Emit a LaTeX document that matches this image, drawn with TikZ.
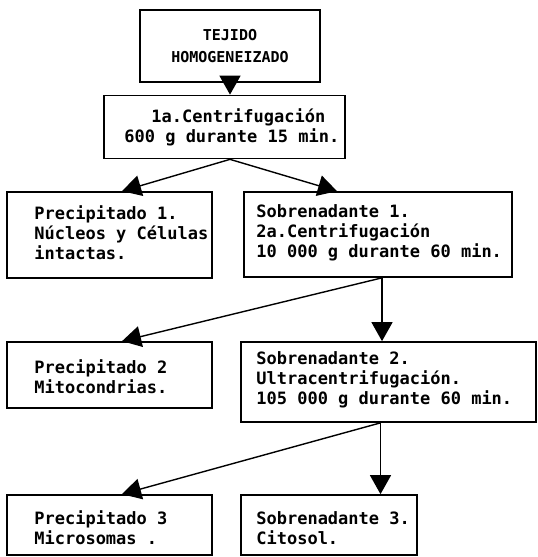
\documentclass[tikz,border=0pt]{standalone}
\usepackage{fontspec}
\setmonofont{DejaVu Sans Mono}
\usetikzlibrary{arrows.meta,calc}
\tikzset{
  caja/.style={draw=black, line width=1.7pt, inner sep=0pt},
  texto/.style={anchor=west, align=left, inner sep=0pt, font=\ttfamily\bfseries\fontsize{17}{20}\selectfont},
  titulo/.style={align=center, inner sep=0pt, font=\ttfamily\bfseries\fontsize{15}{22}\selectfont},
  flecha/.style={-{Triangle[length=19pt 0,width=21pt 0]}, line width=1.4pt, draw=black}
}
\begin{document}
\begin{tikzpicture}[x=1pt, y=-1pt]
  \useasboundingbox (0,0) rectangle (538,557);

  % cajas
  \node[caja, minimum width=180pt, minimum height=72pt] (tejido) at (230,46) {};
  \node[caja, minimum width=241pt, minimum height=63pt] (cent1) at (224.5,127) {};
  \node[caja, minimum width=205pt, minimum height=86pt] (prec1) at (109.5,235) {};
  \node[caja, minimum width=268pt, minimum height=85pt] (sobre1) at (378,234.5) {};
  \node[caja, minimum width=205pt, minimum height=66pt] (prec2) at (109.5,375) {};
  \node[caja, minimum width=295pt, minimum height=80pt] (sobre2) at (388.5,382) {};
  \node[caja, minimum width=205pt, minimum height=60pt] (prec3) at (109.5,525) {};
  \node[caja, minimum width=176pt, minimum height=60pt] (sobre3) at (329,525) {};

  % textos
  \node[titulo] (tejidot) at (tejido) {TEJIDO\\HOMOGENEIZADO};
  \node[texto] (cent1t) at ([xshift=21pt]cent1.west) {\hspace*{27pt}1a.Centrifugación\\600 g durante 15 min.};
  \node[texto] (prec1t) at ([xshift=28pt,yshift=2pt]prec1.west) {Precipitado 1.\\Núcleos y Células\\intactas.};
  \node[texto] (sobre1t) at ([xshift=13pt,yshift=2pt]sobre1.west) {Sobrenadante 1.\\2a.Centrifugación\\10 000 g durante 60 min.};
  \node[texto] (prec2t) at ([xshift=28pt,yshift=-2pt]prec2.west) {Precipitado 2\\Mitocondrias.};
  \node[texto] (sobre2t) at ([xshift=16pt,yshift=2pt]sobre2.west) {Sobrenadante 2.\\Ultracentrifugación.\\105 000 g durante 60 min.};
  \node[texto] (prec3t) at ([xshift=28pt,yshift=-3pt]prec3.west) {Precipitado 3\\Microsomas .};
  \node[texto] (sobre3t) at ([xshift=16pt,yshift=-3pt]sobre3.west) {Sobrenadante 3.\\Citosol.};

  % flechas
  \draw[flecha] (tejido.south) -- (tejido |- cent1.north);
  \draw[flecha] (tejido |- cent1.south) -- ([xshift=12.5pt]prec1.north);
  \draw[flecha] (tejido |- cent1.south) -- ([xshift=-41pt]sobre1.north);
  \draw[flecha] ([xshift=4pt]sobre1.south) -- ([xshift=12.5pt]prec2.north);
  \draw[flecha] ([xshift=4pt]sobre1.south) -- ([xshift=4pt]sobre1.south |- sobre2.north);
  \draw[flecha] ([xshift=-8pt]sobre2.south) -- ([xshift=12.5pt]prec3.north);
  \draw[flecha] ([xshift=-8pt]sobre2.south) -- ([xshift=-8pt]sobre2.south |- sobre3.north);
\end{tikzpicture}
\end{document}
